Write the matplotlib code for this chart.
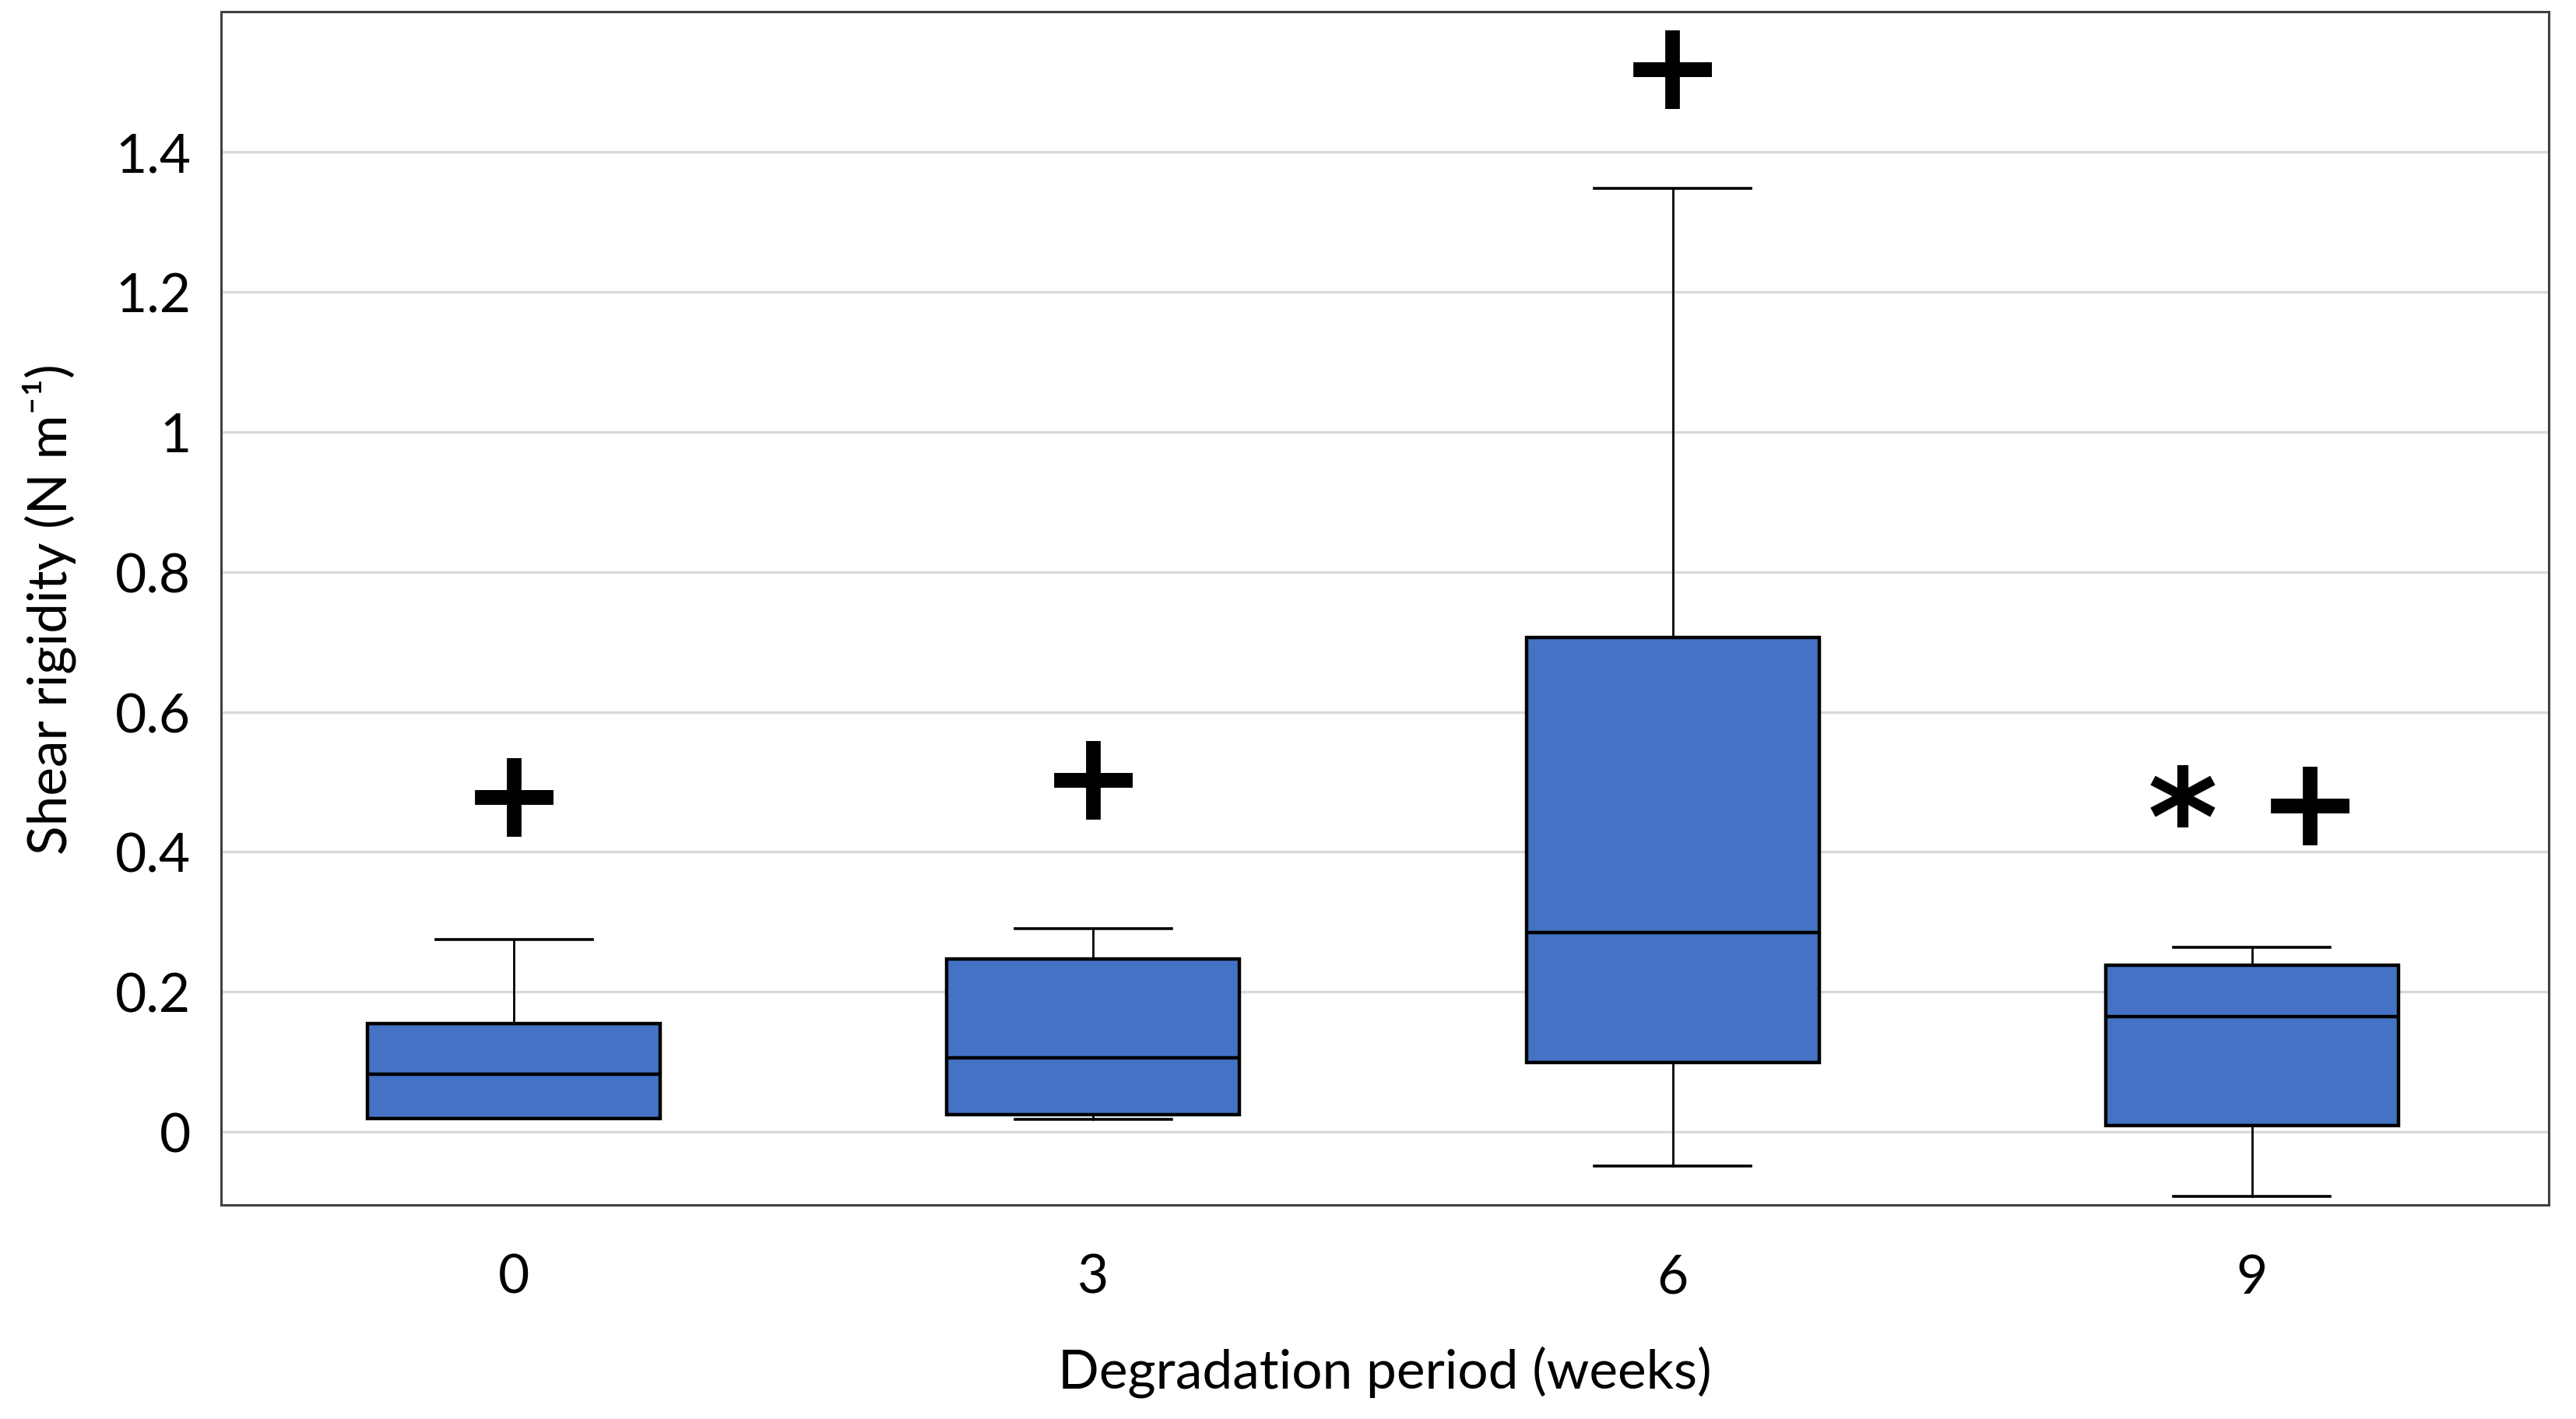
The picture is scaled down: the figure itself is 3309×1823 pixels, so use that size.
import numpy as np
import matplotlib
matplotlib.use('Agg')
import matplotlib.pyplot as plt

# degradation period groups
weeks = ['0', '3', '6', '9']

# box stats (N m^-1)
whis_hi = [0.275, 0.290, 1.348, 0.264]
q3 = [0.155, 0.247, 0.706, 0.238]
med = [0.082, 0.106, 0.285, 0.165]
q1 = [0.019, 0.024, 0.099, 0.009]
whis_lo = [0.019, 0.018, -0.049, -0.092]

# significance marks above each box
mark_x = [0, 1, 2, 2.88, 3.10]
mark_y = [0.490, 0.515, 1.530, 0.455, 0.478]
mark_txt = ['+', '+', '+', '*', '+']

plt.rcParams['font.family'] = ['Lato', 'DejaVu Sans']

fig = plt.figure(figsize=(16.545, 9.12), dpi=200)
ax = fig.add_axes([0.0859, 0.1505, 0.9035, 0.8405])

stats = []
for i in range(len(weeks)):
    stats.append({'whishi': whis_hi[i], 'q3': q3[i], 'med': med[i],
                  'q1': q1[i], 'whislo': whis_lo[i], 'fliers': []})

ax.bxp(stats, positions=range(len(weeks)), widths=0.505, capwidths=0.27,
       patch_artist=True, showfliers=False,
       boxprops=dict(facecolor='#4472C4', edgecolor='black', linewidth=1.6),
       medianprops=dict(color='black', linewidth=1.6),
       whiskerprops=dict(color='black', linewidth=1.0),
       capprops=dict(color='black', linewidth=1.3), zorder=3)

for x, y, t in zip(mark_x, mark_y, mark_txt):
    ax.text(x, y, t, ha='center', va='center_baseline', fontsize=58 if t == '+' else 62,
            fontweight='bold', family='DejaVu Sans', zorder=4)

ax.set_xlim(-0.505, 3.512)
ax.set_ylim(-0.105, 1.6)
ax.set_yticks([0, 0.2, 0.4, 0.6, 0.8, 1, 1.2, 1.4])
ax.set_yticklabels(['0', '0.2', '0.4', '0.6', '0.8', '1', '1.2', '1.4'])
ax.set_xticks(range(len(weeks)))
ax.set_xticklabels(weeks)
ax.yaxis.grid(True, color='#d9d9d9', linewidth=1.2, zorder=0)
ax.set_axisbelow(True)
ax.tick_params(axis='both', length=0, labelsize=25)
ax.tick_params(axis='y', pad=14)
ax.tick_params(axis='x', pad=22)
for s in ax.spines.values():
    s.set_color('#404040')
    s.set_linewidth(1.1)

ax.set_xlabel('Degradation period (weeks)', fontsize=25, labelpad=20)
ax.set_ylabel('Shear rigidity (N m⁻¹)', fontsize=25, labelpad=18)

plt.savefig('out.png', dpi=200)
